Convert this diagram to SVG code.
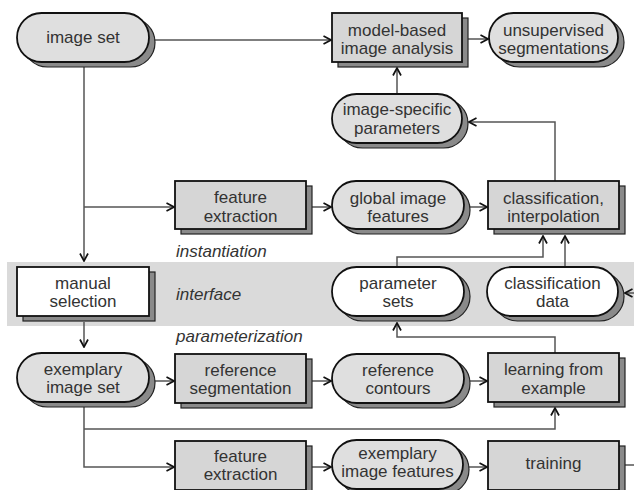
<svg xmlns="http://www.w3.org/2000/svg" width="634" height="490" viewBox="0 0 634 490">
<defs>
<marker id="arr" markerWidth="10" markerHeight="10" refX="9" refY="5" orient="auto" markerUnits="userSpaceOnUse">
<path d="M1.5,1 L9,5 L1.5,9" fill="none" stroke="#111" stroke-width="1.7"/>
</marker>
</defs>
<style>
.sh{fill:#8a8a8a;stroke:#222;stroke-width:1.2}
.pill{fill:#dfdfdf;stroke:#111;stroke-width:1.8}
.box{fill:#d6d6d6;stroke:#111;stroke-width:1.8}
.white{fill:#ffffff}
text{font-family:"Liberation Sans",Arial,sans-serif;font-size:17px;fill:#333;text-anchor:middle}
.lab{font-style:italic;text-anchor:start}
.c{fill:none;stroke:#555;stroke-width:1.5}
</style>
<rect x="7" y="262" width="627" height="64" fill="#dadada"/>
<text class="lab" x="176" y="257">instantiation</text>
<text class="lab" x="176" y="300">interface</text>
<text class="lab" x="176" y="342">parameterization</text>

<g id="connectors">
<path class="c" d="M149,40 H331" marker-end="url(#arr)"/>
<path class="c" d="M462,39 H488" marker-end="url(#arr)"/>
<path class="c" d="M397,94 V68" marker-end="url(#arr)"/>
<path class="c" d="M84,62 V261" marker-end="url(#arr)"/>
<path class="c" d="M84,207 H174" marker-end="url(#arr)"/>
<path class="c" d="M312,207 H331" marker-end="url(#arr)"/>
<path class="c" d="M470,207 H487" marker-end="url(#arr)"/>
<path class="c" d="M555,181 V122 H469" marker-end="url(#arr)"/>
<path class="c" d="M397,267 V257 H543 V236" marker-end="url(#arr)"/>
<path class="c" d="M565,267 V236" marker-end="url(#arr)"/>
<path class="c" d="M634,293 H625" marker-end="url(#arr)"/>
<path class="c" d="M84,322 V347" marker-end="url(#arr)"/>
<path class="c" d="M155,381 H174" marker-end="url(#arr)"/>
<path class="c" d="M312,381 H331" marker-end="url(#arr)"/>
<path class="c" d="M470,381 H487" marker-end="url(#arr)"/>
<path class="c" d="M555,353 V337 H397 V323" marker-end="url(#arr)"/>
<path class="c" d="M84,407 V467 H174" marker-end="url(#arr)"/>
<path class="c" d="M84,429 H555 V408" marker-end="url(#arr)"/>
<path class="c" d="M312,467 H331" marker-end="url(#arr)"/>
<path class="c" d="M469,467 H487" marker-end="url(#arr)"/>
<path class="c" d="M625,465 H634"/>
</g>

<g id="image-set">
<rect class="sh" x="23" y="18" width="132" height="49" rx="24.5"/>
<rect class="pill" x="17" y="13" width="132" height="49" rx="24.5"/>
<text x="83" y="43">image set</text>
</g>
<g id="model-based-image-analysis">
<rect class="sh" x="338" y="18" width="130" height="49"/>
<rect class="box" x="332" y="13" width="130" height="49"/>
<text x="397" y="35.5">model-based</text>
<text x="397" y="53.5">image analysis</text>
</g>
<g id="unsupervised-segmentations">
<rect class="sh" x="495" y="18" width="129" height="49" rx="24.5"/>
<rect class="pill" x="489" y="13" width="129" height="49" rx="24.5"/>
<text x="553.5" y="35.5">unsupervised</text>
<text x="553.5" y="53.5">segmentations</text>
</g>
<g id="image-specific-parameters">
<rect class="sh" x="338" y="99" width="130" height="49" rx="24.5"/>
<rect class="pill" x="332" y="94" width="130" height="49" rx="24.5"/>
<text x="397" y="115">image-specific</text>
<text x="397" y="133.5">parameters</text>
</g>
<g id="feature-extraction-1">
<rect class="sh" x="181" y="186" width="131" height="48"/>
<rect class="box" x="175" y="181" width="131" height="48"/>
<text x="240.5" y="203">feature</text>
<text x="240.5" y="221.5">extraction</text>
</g>
<g id="global-image-features">
<rect class="sh" x="338" y="186" width="132" height="48" rx="24"/>
<rect class="pill" x="332" y="181" width="132" height="48" rx="24"/>
<text x="398" y="203.5">global image</text>
<text x="398" y="221.5">features</text>
</g>
<g id="classification-interpolation">
<rect class="sh" x="494" y="186" width="131" height="48"/>
<rect class="box" x="488" y="181" width="131" height="48"/>
<text x="553.5" y="203.5">classification,</text>
<text x="553.5" y="221.5">interpolation</text>
</g>
<g id="manual-selection">
<rect class="sh" x="23" y="272" width="132" height="49"/>
<rect class="box white" x="17" y="267" width="132" height="49"/>
<text x="83" y="288.5">manual</text>
<text x="83" y="306.5">selection</text>
</g>
<g id="parameter-sets">
<rect class="sh" x="338" y="272" width="132" height="49" rx="24.5"/>
<rect class="pill white" x="332" y="267" width="132" height="49" rx="24.5"/>
<text x="398" y="288.5">parameter</text>
<text x="398" y="306.5">sets</text>
</g>
<g id="classification-data">
<rect class="sh" x="493" y="272" width="131" height="49" rx="24.5"/>
<rect class="pill white" x="487" y="267" width="131" height="49" rx="24.5"/>
<text x="552.5" y="288.5">classification</text>
<text x="552.5" y="306.5">data</text>
</g>
<g id="exemplary-image-set">
<rect class="sh" x="23" y="358" width="132" height="49" rx="24.5"/>
<rect class="pill" x="17" y="353" width="132" height="49" rx="24.5"/>
<text x="83" y="375">exemplary</text>
<text x="83" y="393">image set</text>
</g>
<g id="reference-segmentation">
<rect class="sh" x="181" y="359" width="131" height="49"/>
<rect class="box" x="175" y="354" width="131" height="49"/>
<text x="240.5" y="375.5">reference</text>
<text x="240.5" y="393.5">segmentation</text>
</g>
<g id="reference-contours">
<rect class="sh" x="338" y="359" width="132" height="49" rx="24.5"/>
<rect class="pill" x="332" y="354" width="132" height="49" rx="24.5"/>
<text x="398" y="375.5">reference</text>
<text x="398" y="393.5">contours</text>
</g>
<g id="learning-from-example">
<rect class="sh" x="494" y="358" width="131" height="49"/>
<rect class="box" x="488" y="353" width="131" height="49"/>
<text x="553.5" y="375">learning from</text>
<text x="553.5" y="393.5">example</text>
</g>
<g id="feature-extraction-2">
<rect class="sh" x="181" y="446" width="131" height="49"/>
<rect class="box" x="175" y="441" width="131" height="49"/>
<text x="240.5" y="462">feature</text>
<text x="240.5" y="480">extraction</text>
</g>
<g id="exemplary-image-features">
<rect class="sh" x="338" y="445" width="131" height="49" rx="24.5"/>
<rect class="pill" x="332" y="440" width="131" height="49" rx="24.5"/>
<text x="397.5" y="458.5">exemplary</text>
<text x="397.5" y="477">image features</text>
</g>
<g id="training">
<rect class="sh" x="494" y="446" width="131" height="49"/>
<rect class="box" x="488" y="441" width="131" height="49"/>
<text x="553.5" y="469">training</text>
</g>
</svg>
